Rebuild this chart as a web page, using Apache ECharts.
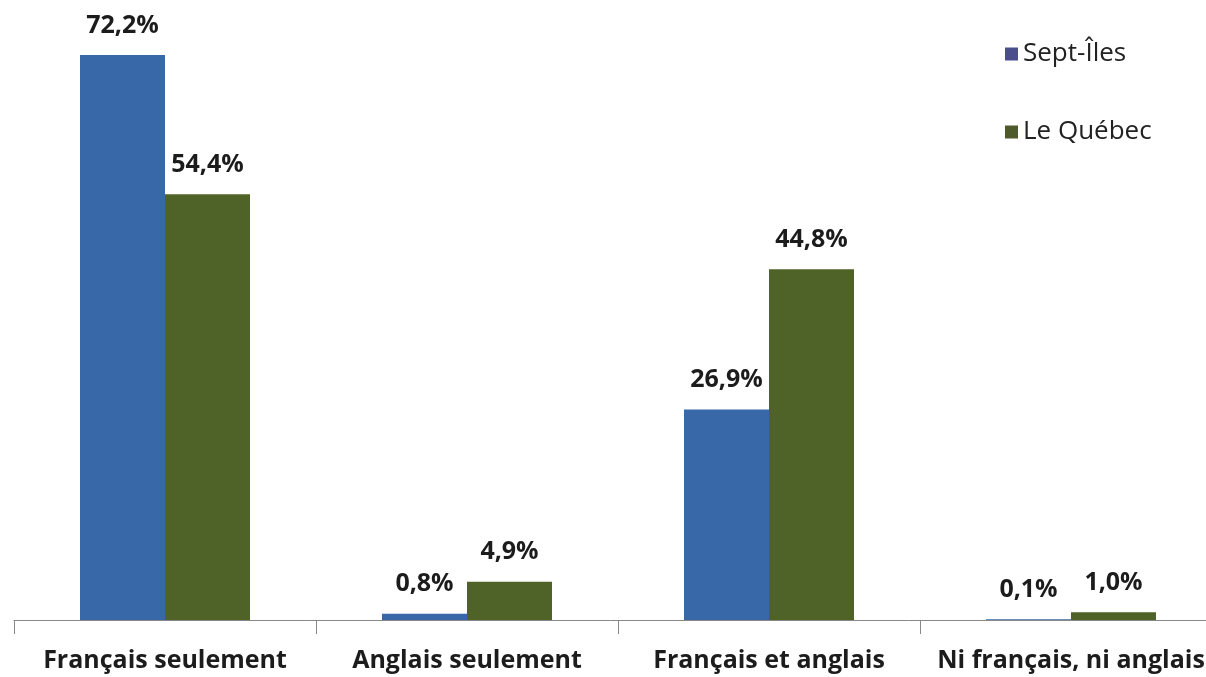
<!DOCTYPE html>
<html lang="fr">
<head>
<meta charset="utf-8" />
<title>Connaissance des langues officielles</title>
<script src="https://cdn.jsdelivr.net/npm/echarts@6/dist/echarts.min.js"></script>
<style>
  * { margin: 0; padding: 0; }
  html, body { background: #fff; }
  #chart-container { width: 1206px; height: 677px; overflow: hidden; }
</style>
</head>
<body>
<div id="chart-container"></div>
<script>
  var categories = ["Français seulement", "Anglais seulement", "Français et anglais", "Ni français, ni anglais"];
  var septIles = [72.2, 0.8, 26.9, 0.1];
  var quebec = [54.4, 4.9, 44.8, 1.0];

  var myChart = echarts.init(document.getElementById("chart-container"), null, { renderer: "canvas" });

  function pct(p) {
    return p.value.toFixed(1).replace(".", ",") + "%";
  }

  var labelStyle = {
    show: true,
    position: "top",
    distance: 17,
    formatter: pct,
    fontFamily: "Open Sans",
    fontWeight: "bold",
    fontSize: 25,
    color: "#1c1c1c"
  };

  var option = {
    animation: false,
    backgroundColor: "#ffffff",
    textStyle: { fontFamily: "Open Sans" },
    legend: {
      orient: "vertical",
      left: 1000,
      top: 36,
      itemGap: 52,
      itemWidth: 13,
      itemHeight: 13,
      icon: "rect",
      textStyle: { fontSize: 26, color: "#222", fontFamily: "Open Sans" },
      data: [
        { name: "Sept-Îles", itemStyle: { color: "#4a4f8c" } },
        { name: "Le Québec", itemStyle: { color: "#4f5a2c" } }
      ]
    },
    grid: { left: 14, width: 1208, top: 33, bottom: 57, containLabel: false, outerBoundsMode: "none" },
    xAxis: {
      type: "category",
      data: categories,
      axisLine: { lineStyle: { color: "#888", width: 1 } },
      axisTick: { show: true, length: 14, lineStyle: { color: "#888" } },
      axisLabel: {
        interval: 0,
        margin: 28,
        fontSize: 25,
        fontWeight: "bold",
        color: "#1c1c1c",
        fontFamily: "Open Sans"
      }
    },
    yAxis: {
      type: "value",
      min: 0,
      max: 75,
      show: false,
      splitLine: { show: false }
    },
    series: [
      {
        name: "Sept-Îles",
        type: "bar",
        data: septIles,
        barWidth: 85,
        barGap: "0%",
        itemStyle: { color: "#3868a7" },
        label: labelStyle
      },
      {
        name: "Le Québec",
        type: "bar",
        data: quebec,
        barWidth: 85,
        itemStyle: { color: "#4f6227" },
        label: labelStyle
      }
    ]
  };

  myChart.setOption(option);
  window.addEventListener("resize", myChart.resize);
</script>
</body>
</html>
